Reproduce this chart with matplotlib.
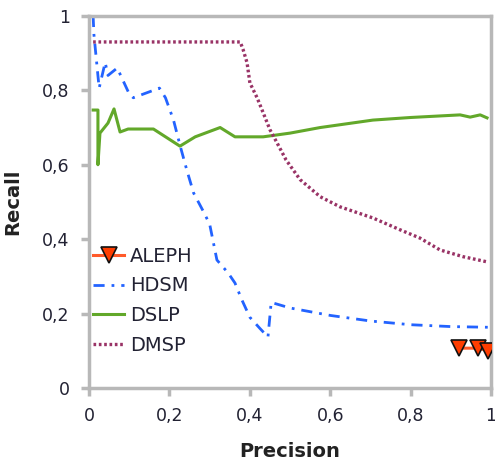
import matplotlib
matplotlib.use('Agg')
import matplotlib.pyplot as plt
from matplotlib.ticker import FuncFormatter

# precision / recall curves
aleph_x = [0.92, 0.968, 0.993]
aleph_y = [0.107, 0.107, 0.10]

hdsm_x = [0.01, 0.012, 0.025, 0.04, 0.047, 0.07, 0.10, 0.11, 0.16, 0.175, 0.19,
          0.21, 0.226, 0.243, 0.26, 0.285, 0.30, 0.318, 0.346, 0.363, 0.38, 0.40,
          0.425, 0.445, 0.453, 0.50, 0.60, 0.70, 0.80, 0.90, 1.0]
hdsm_y = [1.0, 0.95, 0.806, 0.875, 0.84, 0.86, 0.79, 0.78, 0.80, 0.806, 0.78,
          0.72, 0.653, 0.586, 0.524, 0.473, 0.44, 0.344, 0.309, 0.282, 0.237, 0.19,
          0.16, 0.137, 0.23, 0.215, 0.195, 0.18, 0.17, 0.165, 0.163]

dslp_x = [0.01, 0.022, 0.022, 0.027, 0.047, 0.062, 0.077, 0.097, 0.16, 0.226,
          0.264, 0.326, 0.363, 0.433, 0.50, 0.575, 0.706, 0.80, 0.923, 0.948,
          0.973, 0.99]
dslp_y = [0.747, 0.747, 0.60, 0.685, 0.712, 0.75, 0.688, 0.696, 0.696, 0.65,
          0.675, 0.70, 0.675, 0.675, 0.685, 0.70, 0.72, 0.727, 0.734, 0.728,
          0.734, 0.726]

dmsp_x = [0.01, 0.376, 0.383, 0.393, 0.40, 0.418, 0.433, 0.45, 0.468, 0.49,
          0.525, 0.575, 0.624, 0.706, 0.774, 0.823, 0.873, 0.93, 0.99]
dmsp_y = [0.93, 0.93, 0.91, 0.874, 0.82, 0.78, 0.74, 0.694, 0.658, 0.613,
          0.56, 0.514, 0.487, 0.457, 0.425, 0.403, 0.371, 0.353, 0.339]

ticks = [0, 0.2, 0.4, 0.6, 0.8, 1.0]

fig = plt.figure(figsize=(4.95, 4.68), dpi=100)
ax = fig.add_axes([0.180, 0.171, 0.812, 0.795])

ax.plot(aleph_x, aleph_y, color='#ff5a2a', lw=2.2, marker='v', ms=11,
        mfc='#ff3d00', mec='#111111', mew=1.2, label='ALEPH', zorder=5)
ax.plot(hdsm_x, hdsm_y, color='#2363ff', lw=2.0, dashes=(4, 2.5, 1, 2.5),
        label='HDSM')
ax.plot(dslp_x, dslp_y, color='#62a82a', lw=2.2, label='DSLP')
ax.plot(dmsp_x, dmsp_y, color='#993366', lw=2.4, dashes=(0.8, 0.8),
        label='DMSP')

ax.set_xlim(0, 1)
ax.set_ylim(0, 1)
ax.set_xticks(ticks)
ax.set_yticks(ticks)
fmt = FuncFormatter(lambda v, p: ('%g' % v).replace('.', ','))
ax.xaxis.set_major_formatter(fmt)
ax.yaxis.set_major_formatter(fmt)

for s in ax.spines.values():
    s.set_color('#b8b8b8')
    s.set_linewidth(2.5)
ax.tick_params(direction='out', length=6, width=2.5, color='#b8b8b8',
               labelsize=12.5, labelcolor='#222233', pad=8)

ax.set_xlabel('Precision', fontsize=14, fontweight='bold', color='#222222',
              labelpad=12)
ax.set_ylabel('Recall', fontsize=14, fontweight='bold', color='#222222',
              labelpad=14)

ax.legend(loc='upper left', bbox_to_anchor=(0.0, 0.39), frameon=False,
          fontsize=14, handlelength=1.6, handletextpad=0.3, labelspacing=0.55,
          borderaxespad=0.2, borderpad=0.0, labelcolor='#222233')

fig.savefig('out.png', dpi=100)
